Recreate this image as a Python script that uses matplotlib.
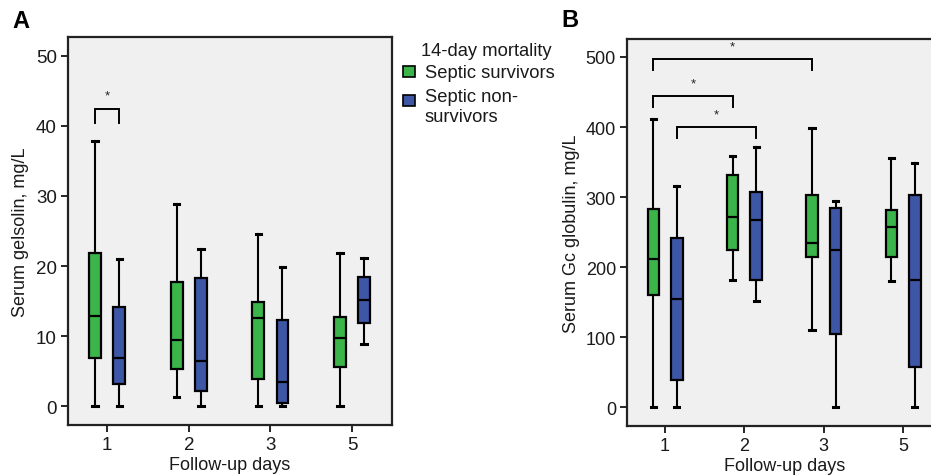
import matplotlib
matplotlib.use("Agg")
import matplotlib.pyplot as plt
from matplotlib.patches import Rectangle

plt.rcParams["font.family"] = ["Liberation Sans", "DejaVu Sans"]

# Follow-up days on the x axis
days = ["1", "2", "3", "5"]

# Box statistics per day: [lower whisker, Q1, median, Q3, upper whisker]
gelsolin_survivors = [
    [0.0, 6.9, 12.9, 21.8, 37.8],
    [1.3, 5.3, 9.5, 17.7, 28.8],
    [0.0, 3.8, 12.6, 14.9, 24.6],
    [0.0, 5.6, 9.7, 12.7, 21.8],
]
gelsolin_nonsurvivors = [
    [0.0, 3.2, 6.9, 14.2, 21.0],
    [0.0, 2.1, 6.5, 18.3, 22.5],
    [0.0, 0.4, 3.4, 12.3, 19.8],
    [8.9, 11.8, 15.2, 18.4, 21.1],
]
gc_survivors = [
    [0.0, 160.0, 211.0, 283.0, 412.0],
    [182.0, 224.0, 271.0, 331.0, 359.0],
    [110.0, 214.0, 234.0, 303.0, 399.0],
    [180.0, 215.0, 257.0, 282.0, 356.0],
]
gc_nonsurvivors = [
    [0.0, 39.0, 154.0, 241.0, 316.0],
    [151.0, 182.0, 267.0, 307.0, 371.0],
    [0.0, 105.0, 225.0, 284.0, 295.0],
    [0.0, 57.0, 182.0, 303.0, 348.0],
]

# Significance brackets: (group a, series a, group b, series b, bracket level)
gelsolin_sig = [(0, 0, 0, 1, 42.4)]
gc_sig = [(0, 0, 2, 0, 497.0), (0, 0, 1, 0, 445.0), (0, 1, 1, 1, 400.0)]

GREEN = "#3bb54a"
BLUE = "#3d56a6"
BG = "#f0f0f0"
TXT = "#1a1a1a"
OFFSET = 0.148
WIDTH = 0.146
LABEL_FS = 13
LEGEND_FS = 13.2

fig = plt.figure(figsize=(9.31, 4.77), dpi=100)
W, H = 931.0, 477.0


def add_axes(left, top, right, bottom):
    return fig.add_axes([left / W, 1 - bottom / H, (right - left) / W, (bottom - top) / H])


def to_stats(rows):
    return [dict(whislo=r[0], q1=r[1], med=r[2], q3=r[3], whishi=r[4], fliers=[]) for r in rows]


def draw_panel(ax, surv, nonsurv, sig, ylim, yticks, ylabel, leg, tick_fs, ylabelpad):
    ax.set_facecolor(BG)
    for rows, color, sgn in ((surv, GREEN, -1), (nonsurv, BLUE, 1)):
        pos = [i + sgn * OFFSET for i in range(len(days))]
        ax.bxp(
            to_stats(rows), positions=pos, widths=WIDTH, patch_artist=True,
            showfliers=False, capwidths=0.065, manage_ticks=False,
            boxprops=dict(facecolor=color, edgecolor="black", linewidth=1.6),
            medianprops=dict(color="black", linewidth=1.6),
            whiskerprops=dict(color="black", linewidth=1.5),
            capprops=dict(color="black", linewidth=2.2),
        )
    for ia, sa, ib, sb, level in sig:
        xa = ia + (2 * sa - 1) * OFFSET
        xb = ib + (2 * sb - 1) * OFFSET
        ax.plot([xa, xa, xb, xb], [level - leg, level, level, level - leg],
                color="black", lw=1.4, solid_joinstyle="miter", clip_on=False)
        ax.text((xa + xb) / 2, level + leg * 0.55, "*", ha="center", va="bottom",
                fontsize=9.5, color="#222222")
    ax.set_xlim(-0.48, 3.49)
    ax.set_ylim(*ylim)
    ax.set_xticks(range(len(days)))
    ax.set_xticklabels(days)
    ax.set_yticks(yticks)
    ax.tick_params(direction="out", length=5, width=1.2, labelsize=tick_fs, colors="black",
                   labelcolor=TXT, pad=3)
    for sp in ax.spines.values():
        sp.set_linewidth(1.6)
        sp.set_color("#222222")
    ax.set_xlabel("Follow-up days", fontsize=LABEL_FS, color=TXT, labelpad=2)
    ax.set_ylabel(ylabel, fontsize=LABEL_FS, color=TXT, labelpad=ylabelpad)


axA = add_axes(68, 38, 392, 426)
draw_panel(axA, gelsolin_survivors, gelsolin_nonsurvivors, gelsolin_sig,
           (-2.7, 52.7), [0, 10, 20, 30, 40, 50], "Serum gelsolin, mg/L", 2.0, 13.5, 5)

axB = add_axes(627, 40, 942, 427)
axB.spines["right"].set_visible(False)
draw_panel(axB, gc_survivors, gc_nonsurvivors, gc_sig,
           (-27, 525.7), [0, 100, 200, 300, 400, 500], "Serum Gc globulin, mg/L", 16.0, 13, 4)

fig.text(12 / W, 1 - 28 / H, "A", fontsize=17, fontweight="bold", ha="left", va="baseline")
fig.text(561 / W, 1 - 27 / H, "B", fontsize=17, fontweight="bold", ha="left", va="baseline")

# Legend drawn in figure coordinates
fig.text(421 / W, 1 - 56 / H, "14-day mortality", fontsize=LEGEND_FS, color=TXT,
         ha="left", va="baseline")
legend_items = [(GREEN, "Septic survivors", 67, 63), (BLUE, "Septic non-\nsurvivors", 96, 88)]
for color, label, ptop, captop in legend_items:
    fig.add_artist(Rectangle((403 / W, 1 - (ptop + 10.8) / H), 11.5 / W, 10.8 / H,
                             transform=fig.transFigure, facecolor=color,
                             edgecolor="black", linewidth=1.2))
    fig.text(425 / W, 1 - (captop + 1.5) / H, label, fontsize=LEGEND_FS, color=TXT,
             ha="left", va="top", linespacing=1.2)

fig.savefig("out.png", dpi=100)
